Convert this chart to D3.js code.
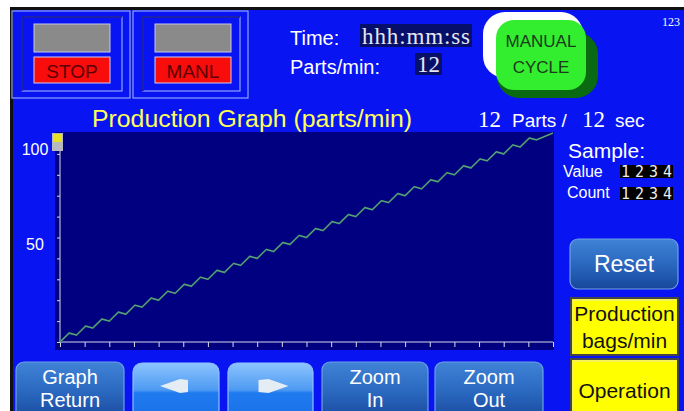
<!DOCTYPE html>
<html><head><meta charset="utf-8">
<script src="https://cdn.jsdelivr.net/npm/d3@7/dist/d3.min.js"></script>
<style>body{margin:0;background:#fff;overflow:hidden}svg{display:block}</style>
</head><body>
<svg id="c" width="684" height="411"></svg>
<script>
// ---- data ----
const xTicks = [0,1,2,3,4,5,6,7,8,9,10,11,12,13,14,15,16,17,18,19,20];
const yTicks = [0,10,20,30,40,50,60,70,80,90,100];
const yLabels = [50, 100];
const sampleT = [0.00,0.37,0.67,1.04,1.33,1.70,2.00,2.37,2.67,3.04,3.33,3.70,4.00,4.37,4.67,5.04,5.33,5.70,6.00,6.37,
  6.67,7.04,7.33,7.70,8.00,8.37,8.67,9.04,9.33,9.70,10.00,10.37,10.67,11.04,11.33,11.70,12.00,12.37,12.67,13.04,
  13.33,13.70,14.00,14.37,14.67,15.04,15.33,15.70,16.00,16.37,16.67,17.04,17.33,17.70,18.00,18.37,18.67,19.04,19.33,20.00];
const sampleV = [0.0,4.3,3.3,7.6,6.7,11.0,10.0,14.3,13.3,17.6,16.7,21.0,20.0,24.3,23.3,27.6,26.7,31.0,30.0,34.3,
  33.3,37.6,36.7,41.0,40.0,44.3,43.3,47.6,46.7,51.0,50.0,54.3,53.3,57.6,56.7,61.0,60.0,64.3,63.3,67.6,
  66.7,71.0,70.0,74.3,73.3,77.6,76.7,81.0,80.0,84.3,83.3,87.6,86.7,91.0,90.0,94.3,93.3,97.6,96.7,100.0];
const partsPerMin = "12";
const partsLabel = "12", secLabel = "12";
const sampleValue = "1234", sampleCount = "1234";

const svg = d3.select("#c");
const SANS = "Arial, 'Liberation Sans', sans-serif";
const SERIF = "'Liberation Serif', 'DejaVu Serif', serif";
const MONO = "'Liberation Mono', 'DejaVu Sans Mono', monospace";

// defs
const defs = svg.append("defs");
function grad(id, stops){
  const g = defs.append("linearGradient").attr("id",id).attr("x1",0).attr("y1",0).attr("x2",0).attr("y2",1);
  stops.forEach(s=>g.append("stop").attr("offset",s[0]).attr("stop-color",s[1]));
}
grad("btn", [[0,"#3f83d6"],[0.5,"#2a68c0"],[1,"#17479a"]]);
grad("arr", [[0,"#8cc4ff"],[0.45,"#4d9af2"],[0.5,"#1f7af0"],[1,"#1a6fe6"]]);

// screen background
svg.append("rect").attr("x",0).attr("y",0).attr("width",684).attr("height",411).attr("fill","#fff");
svg.append("rect").attr("x",10).attr("y",7).attr("width",674).attr("height",404).attr("fill","#111");
svg.append("rect").attr("x",13).attr("y",10).attr("width",671).attr("height",401).attr("fill","#0814f2");

// top-left status frames
function frame(x0, x1, label){
  svg.append("rect").attr("x",x0).attr("y",11).attr("width",x1-x0).attr("height",87)
    .attr("fill","none").attr("stroke","#8fa2ff").attr("stroke-width",1.2);
  svg.append("rect").attr("x",x0+10).attr("y",17).attr("width",x1-x0-18).attr("height",74)
    .attr("fill","none").attr("stroke","#8fa2ff").attr("stroke-width",1.2);
  svg.append("path").attr("d",`M${x0+10},91 V17 H${x1-8}`).attr("fill","none").attr("stroke","#0a0a90").attr("stroke-width",1.5);
  svg.append("rect").attr("x",x0+22).attr("y",24).attr("width",76).attr("height",28).attr("fill","#8a8a8a")
    .attr("stroke","#c8c8e8").attr("stroke-width",1);
  svg.append("rect").attr("x",x0+22).attr("y",57).attr("width",76).attr("height",26).attr("fill","#f80c0c")
    .attr("stroke","#d0d0f0").attr("stroke-width",1);
  svg.append("text").attr("x",x0+60).attr("y",78).attr("text-anchor","middle").attr("font-family",SANS)
    .attr("font-size",19).attr("fill","#5a0000").text(label);
}
frame(12,130,"STOP");
frame(133,248,"MANL");

// time / parts per min
svg.append("text").attr("x",290).attr("y",45).attr("font-family",SANS).attr("font-size",20).attr("fill","#fff").text("Time:");
svg.append("rect").attr("x",360).attr("y",24).attr("width",112).attr("height",23).attr("fill","#06106a");
svg.append("text").attr("x",362).attr("y",44).attr("font-family",SERIF).attr("font-size",23).attr("fill","#e6e6f0")
  .attr("textLength",108).attr("lengthAdjust","spacing").text("hhh:mm:ss");
svg.append("text").attr("x",290).attr("y",74).attr("font-family",SANS).attr("font-size",20).attr("fill","#fff").text("Parts/min:");
svg.append("rect").attr("x",415).attr("y",53).attr("width",27).attr("height",22).attr("fill","#06106a");
svg.append("text").attr("x",428.5).attr("y",72).attr("text-anchor","middle").attr("font-family",SERIF).attr("font-size",23).attr("fill","#e6e6f0").text(partsPerMin);

// MANUAL CYCLE button
svg.append("rect").attr("x",483).attr("y",12).attr("width",100).attr("height",66).attr("rx",22).attr("fill","#ffffff");
svg.append("rect").attr("x",497).attr("y",32).attr("width",101).attr("height",66).attr("rx",22).attr("fill","#0a6a12");
svg.append("rect").attr("x",496).attr("y",20).attr("width",90).attr("height",70).attr("rx",18).attr("fill","#33ee2e");
svg.append("text").attr("x",541).attr("y",47).attr("text-anchor","middle").attr("font-family",SANS).attr("font-size",17).attr("fill","#1c3a1c").text("MANUAL");
svg.append("text").attr("x",541).attr("y",73).attr("text-anchor","middle").attr("font-family",SANS).attr("font-size",17).attr("fill","#1c3a1c").text("CYCLE");
svg.append("text").attr("x",680).attr("y",26).attr("text-anchor","end").attr("font-family",SERIF).attr("font-size",12).attr("fill","#fff").text("123");

// title row
svg.append("text").attr("x",92).attr("y",127).attr("font-family",SANS).attr("font-size",23).attr("fill","#ffff55")
  .attr("textLength",320).attr("lengthAdjust","spacingAndGlyphs").text("Production Graph (parts/min)");
svg.append("text").attr("x",478).attr("y",127).attr("font-family",SERIF).attr("font-size",23).attr("fill","#fff").text(partsLabel);
svg.append("text").attr("x",512).attr("y",127).attr("font-family",SANS).attr("font-size",19).attr("fill","#fff").text("Parts /");
svg.append("text").attr("x",582).attr("y",127).attr("font-family",SERIF).attr("font-size",23).attr("fill","#fff").text(secLabel);
svg.append("text").attr("x",615).attr("y",127).attr("font-family",SANS).attr("font-size",19).attr("fill","#fff").text("sec");

// plot
const x = d3.scaleLinear().domain([0,20]).range([60,553]);
const y = d3.scaleLinear().domain([0,100]).range([342,133]);
svg.append("rect").attr("x",55).attr("y",132).attr("width",499).attr("height",218).attr("fill","#000080");

const xa = svg.append("g").attr("transform","translate(0,342)")
  .call(d3.axisBottom(x).tickValues(xTicks).tickSize(5).tickFormat(""));
const ya = svg.append("g").attr("transform","translate(60,0)")
  .call(d3.axisLeft(y).tickValues(yTicks).tickSize(3).tickFormat(""));
[xa,ya].forEach(a=>{a.selectAll("path,line").attr("stroke","#d8d8e8").attr("stroke-width",1);});
xa.select(".domain").attr("d","M60,0H553");
ya.select(".domain").attr("d","M0,342V133");

svg.selectAll("text.ylab").data(yLabels).enter().append("text").attr("class","ylab")
  .attr("x",35).attr("y",d=>Math.max(y(d)+12, 155)).attr("text-anchor","middle")
  .attr("font-family",SANS).attr("font-size",16).attr("fill","#fff").text(d=>d);

// small icon at top of y-axis
svg.append("rect").attr("x",52).attr("y",133).attr("width",11).attr("height",18).attr("fill","#b8b8c0");
svg.append("rect").attr("x",53).attr("y",134).attr("width",9).attr("height",8).attr("fill","#e8e020");

const pts = sampleT.map((t,i)=>[t, sampleV[i]]);
const line = d3.line().x(d=>x(d[0])).y(d=>y(d[1]));
svg.append("path").datum(pts).attr("d",line).attr("fill","none").attr("stroke","#347f60").attr("stroke-width",1.8);
svg.append("path").datum(pts).attr("d",line).attr("fill","none").attr("stroke","#78b894").attr("stroke-width",0.7);

// right sample panel
svg.append("text").attr("x",568).attr("y",158).attr("font-family",SANS).attr("font-size",21).attr("fill","#fff").text("Sample:");
svg.append("text").attr("x",563).attr("y",177).attr("font-family",SANS).attr("font-size",16).attr("fill","#fff").text("Value");
svg.append("text").attr("x",567).attr("y",198).attr("font-family",SANS).attr("font-size",16).attr("fill","#fff").text("Count");
[[165,sampleValue],[187,sampleCount]].forEach(([yy,v])=>{
  svg.append("rect").attr("x",620).attr("y",yy).attr("width",53).attr("height",13).attr("fill","#000");
  svg.append("text").attr("x",621).attr("y",yy+12).attr("font-family","'DejaVu Sans Mono', monospace").attr("font-size",15).attr("font-weight",300).attr("fill","#eee")
    .attr("textLength",51).attr("lengthAdjust","spacing").text(v);
});

// Reset button
function blueBtn(x0,y0,w,h,lines,fs){
  svg.append("rect").attr("x",x0).attr("y",y0).attr("width",w).attr("height",h).attr("rx",8)
    .attr("fill","url(#btn)").attr("stroke","#6e9fe6").attr("stroke-width",1.2);
  const n = lines.length;
  lines.forEach((t,i)=>{
    svg.append("text").attr("x",x0+w/2).attr("y", n===1 ? y0+h/2+fs*0.36 : y0+22+i*23)
      .attr("text-anchor","middle").attr("font-family",SANS).attr("font-size",fs).attr("fill","#fff").text(t);
  });
}
blueBtn(570,239,108,50,["Reset"],23);

// yellow buttons
function yellowBtn(x0,y0,w,h,lines){
  svg.append("rect").attr("x",x0).attr("y",y0).attr("width",w).attr("height",h).attr("fill","#ffff00")
    .attr("stroke","#444").attr("stroke-width",2);
  svg.append("path").attr("d",`M${x0+2},${y0+h-2} V${y0+2} H${x0+w-2}`).attr("fill","none").attr("stroke","#e8e8b0").attr("stroke-width",1);
  const n = lines.length;
  lines.forEach((t,i)=>{
    svg.append("text").attr("x",x0+w/2).attr("y", n===1 ? y0+h/2+9 : y0+23+i*27)
      .attr("text-anchor","middle").attr("font-family",SANS).attr("font-size",21).attr("fill","#111").text(t);
  });
}
yellowBtn(571,298,107,57,["Production","bags/min"]);
yellowBtn(571,359,107,60,["Operation"]);

// bottom buttons
blueBtn(16,362,108,60,["Graph","Return"],20);
blueBtn(322,362,106,60,["Zoom","In"],20);
blueBtn(435,362,108,60,["Zoom","Out"],20);
function arrowBtn(x0,w,dir){
  svg.append("rect").attr("x",x0).attr("y",363).attr("width",w).attr("height",60).attr("rx",9)
    .attr("fill","url(#arr)").attr("stroke","#8cc0ff").attr("stroke-width",1.2);
  const c = x0+w/2;
  const p = dir<0
    ? [[c-16,386],[c+4,379],[c+12,380],[c+12,392],[c+4,393]]
    : [[c+18,386],[c-2,379],[c-12,380],[c-12,392],[c-2,393]];
  svg.append("polygon").attr("points",p.map(d=>d.join(",")).join(" ")).attr("fill","#e4ecf4");
}
arrowBtn(133,86,-1);
arrowBtn(228,85,1);
</script>
</body></html>
